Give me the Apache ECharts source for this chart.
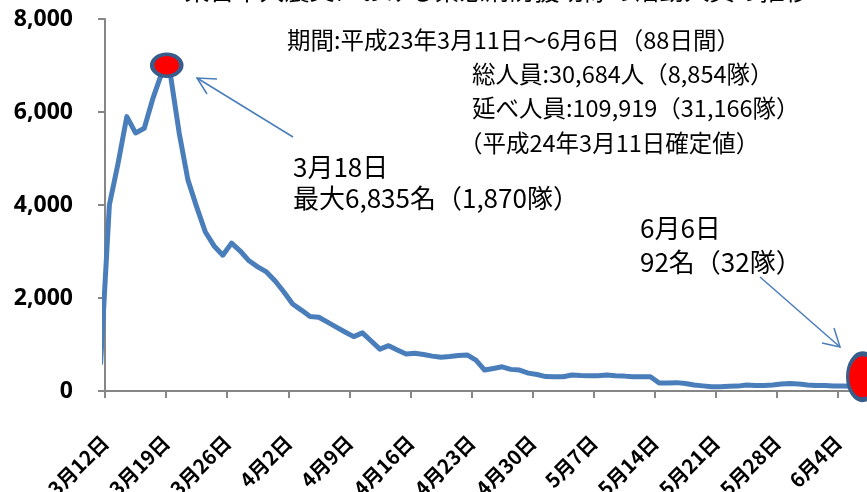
<!DOCTYPE html>
<html>
<head>
<meta charset="utf-8">
<script src="https://cdn.jsdelivr.net/npm/echarts@6/dist/echarts.min.js"></script>
<style>
html,body{margin:0;padding:0;background:#fff;}
#chart{width:867px;height:492px;}
</style>
</head>
<body>
<div id="chart"></div>
<script>
// 1日ごとの活動人員（3月11日〜6月6日、88日間）
// 3月11日の点は軸の手前にあり、線の立ち上がりだけが見える
var dayValues = [
  600,
  4000, 4900, 5900, 5550, 5650, 6300, 6835, 6800, 5550, 4540,
  3960, 3420, 3120, 2920, 3180, 3010, 2800, 2670, 2560, 2365,
  2130, 1870, 1740, 1600, 1585, 1480, 1375, 1270, 1170, 1250,
  1075, 900, 975, 880, 795, 810, 785, 750, 725, 740,
  765, 775, 665, 450, 485, 520, 465, 450, 385, 355,
  310, 305, 305, 345, 335, 330, 330, 345, 330, 320,
  305, 305, 305, 170, 170, 180, 160, 130, 110, 90,
  90, 100, 105, 130, 120, 120, 130, 150, 160, 150,
  130, 120, 120, 110, 105, 100, 95, 92
];
var tickLabels = ['3月12日','3月19日','3月26日','4月2日','4月9日','4月16日','4月23日',
  '4月30日','5月7日','5月14日','5月21日','5月28日','6月4日'];
var yTicks = [0, 2000, 4000, 6000, 8000];

var infoLines = [
  '期間:平成23年3月11日～6月6日（88日間）',
  '総人員:30,684人（8,854隊）',
  '延べ人員:109,919（31,166隊）',
  '（平成24年3月11日確定値）'
];
var peakNote = ['3月18日', '最大6,835名（1,870隊）'];
var lastNote = ['6月6日', '92名（32隊）'];

var lineColor = '#4A7EBB';
var axisColor = '#868686';
var jp = '"Noto Sans CJK JP"';

// 点は日の帯の中央に置く（目盛りは帯の境目）
var lineData = dayValues.map(function (v, i) { return [i - 0.5, v]; });
var peakIdx = 0;
dayValues.forEach(function (v, i) { if (v > dayValues[peakIdx]) peakIdx = i; });
var lastIdx = dayValues.length - 1;

function txt(s, x, y, size) {
  return {
    type: 'text', x: x, y: y, z: 10,
    style: { text: s, fill: '#000', font: size + 'px ' + jp, verticalAlign: 'middle' }
  };
}
function arrow(x1, y1, x2, y2, head) {
  return [
    { type: 'line', z: 10, shape: { x1: x1, y1: y1, x2: x2, y2: y2 },
      style: { stroke: lineColor, lineWidth: 1.5 } },
    { type: 'polyline', z: 10, shape: { points: head },
      style: { stroke: lineColor, lineWidth: 1.5, fill: null } }
  ];
}

var graphics = [
  { type: 'text', x: 497, y: -10, z: 10,
    style: { text: '東日本大震災における緊急消防援助隊の活動人員の推移', fill: '#000',
      font: '25px ' + jp, align: 'center', verticalAlign: 'middle' } },
  txt(infoLines[0], 287, 40, 23.5),
  txt(infoLines[1], 472, 74, 23.5),
  txt(infoLines[2], 472, 108, 23.5),
  txt(infoLines[3], 459, 143, 23.5),
  txt(peakNote[0], 293, 167, 26),
  txt(peakNote[1], 293, 198, 26),
  txt(lastNote[0], 640, 228, 26),
  txt(lastNote[1], 640, 262, 26)
].concat(
  arrow(293, 137, 197, 78, [[217, 79], [197, 78], [207, 94]]),
  arrow(760, 277, 840, 347, [[822, 343], [840, 347], [834, 328]])
);

var chart = echarts.init(document.getElementById('chart'));
chart.setOption({
  animation: false,
  backgroundColor: '#fff',
  grid: { left: 105, top: 19, bottom: 101, right: -6, outerBoundsMode: 'none', containLabel: false },
  xAxis: {
    type: 'value', min: 0, max: 88, interval: 7,
    axisLine: { show: true, lineStyle: { color: axisColor, width: 2 } },
    axisTick: { show: true, length: 7, lineStyle: { color: axisColor, width: 2 } },
    splitLine: { show: false },
    axisLabel: {
      rotate: 45, margin: 48, fontSize: 20, fontWeight: 'bold', color: '#000',
      fontFamily: jp, showMaxLabel: false,
      formatter: function (v) {
        return v % 7 === 0 ? (tickLabels[v / 7] || '') : '';
      }
    }
  },
  yAxis: {
    type: 'value', min: yTicks[0], max: yTicks[yTicks.length - 1], interval: yTicks[1] - yTicks[0],
    z: 3,
    axisLine: { show: true, lineStyle: { color: axisColor, width: 2 } },
    axisTick: { show: true, length: 7, lineStyle: { color: axisColor, width: 2 } },
    splitLine: { show: false },
    axisLabel: {
      margin: 32, fontSize: 23, fontWeight: 'bold', color: '#000', fontFamily: '"Noto Sans"',
      formatter: function (v) { return v.toLocaleString('en-US'); }
    }
  },
  series: [{
    type: 'line',
    data: lineData,
    showSymbol: false,
    lineStyle: { color: lineColor, width: 5, cap: 'round', join: 'round' },
    markPoint: {
      symbol: 'circle',
      label: { show: false },
      itemStyle: { color: '#FF0000', borderColor: '#385D8A', borderWidth: 4 },
      data: [
        { coord: lineData[peakIdx], symbolSize: [29, 22], symbolOffset: [5, -8] },
        { coord: lineData[lastIdx], symbolSize: [30, 46], symbolOffset: [-6, -10] }
      ]
    }
  }],
  graphic: graphics
});
</script>
</body>
</html>
